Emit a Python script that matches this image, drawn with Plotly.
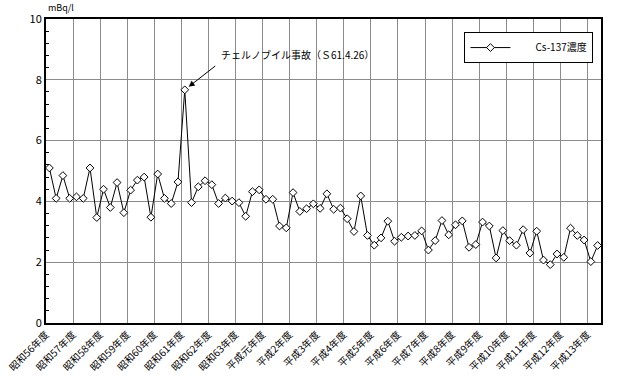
import plotly.graph_objects as go

year_labels = ["昭和56年度", "昭和57年度", "昭和58年度", "昭和59年度", "昭和60年度",
               "昭和61年度", "昭和62年度", "昭和63年度", "平成元年度", "平成2年度",
               "平成3年度", "平成4年度", "平成5年度", "平成6年度", "平成7年度",
               "平成8年度", "平成9年度", "平成10年度", "平成11年度", "平成12年度",
               "平成13年度"]

cs137 = [5.1, 4.1, 4.85, 4.1, 4.15, 4.1, 5.1, 3.47,
         4.4, 3.8, 4.62, 3.63, 4.37, 4.7, 4.8, 3.48,
         4.9, 4.1, 3.93, 4.64, 7.67, 3.96, 4.48, 4.68,
         4.55, 3.93, 4.11, 4.01, 3.96, 3.51, 4.32, 4.38,
         4.07, 4.07, 3.19, 3.13, 4.29, 3.67, 3.76, 3.92,
         3.77, 4.25, 3.74, 3.78, 3.43, 3.01, 4.18, 2.88,
         2.56, 2.8, 3.35, 2.69, 2.82, 2.86, 2.88, 3.03,
         2.4, 2.71, 3.37, 2.9, 3.23, 3.36, 2.49, 2.58,
         3.32, 3.19, 2.14, 3.04, 2.71, 2.56, 3.07, 2.3,
         3.02, 2.07, 1.92, 2.27, 2.16, 3.12, 2.88, 2.73,
         2.02, 2.55]

quarters_per_year = 4
x = [i + 0.5 for i in range(len(cs137))]
tickvals = [i * quarters_per_year for i in range(len(year_labels))]

font_family = "Noto Sans CJK JP"

fig = go.Figure()
fig.add_trace(go.Scatter(
    x=x, y=cs137, mode="lines+markers", name="\u3000\u3000Cs-137濃度",
    line=dict(color="black", width=1),
    marker=dict(symbol="diamond", size=6, color="white",
                line=dict(color="black", width=1)),
))

peak_i = cs137.index(max(cs137))
fig.add_annotation(x=x[peak_i], y=cs137[peak_i], xref="x", yref="y",
                   text="", showarrow=True, arrowhead=2, arrowsize=1.2,
                   arrowwidth=1, arrowcolor="black", standoff=5,
                   ax=32, ay=-25)
fig.add_annotation(x=x[peak_i], y=cs137[peak_i], xref="x", yref="y",
                   text="チェルノブイル事故（Ｓ61.4.26）", showarrow=False,
                   xanchor="left", yanchor="middle", xshift=34, yshift=35,
                   font=dict(size=10, color="black", family=font_family))
fig.add_annotation(x=0, y=1, xref="paper", yref="paper", text="mBq/l",
                   showarrow=False, xanchor="left", yanchor="bottom",
                   yshift=3, font=dict(size=9, color="black", family=font_family))

fig.update_layout(
    width=620, height=376,
    margin=dict(l=46, r=19, t=19, b=53, autoexpand=False),
    paper_bgcolor="white", plot_bgcolor="white",
    font=dict(family=font_family, color="black"),
    showlegend=True,
    legend=dict(x=0.754, y=0.957, xanchor="left", yanchor="top",
                bordercolor="black", borderwidth=1, bgcolor="white",
                font=dict(size=10, family=font_family), itemwidth=40),
)
fig.update_xaxes(
    range=[0, len(cs137)], tickmode="array", tickvals=tickvals,
    ticktext=year_labels, tickangle=-45, ticks="", automargin=False,
    tickfont=dict(size=10, family=font_family, color="black"),
    showgrid=True, gridcolor="#8c8c8c", gridwidth=1,
    showline=True, linecolor="black", linewidth=2, mirror=True,
    zeroline=False,
)
fig.update_yaxes(
    range=[0, 10], dtick=2, ticks="", automargin=False,
    tickfont=dict(size=11, family=font_family, color="black"),
    showgrid=True, gridcolor="#8c8c8c", gridwidth=1,
    showline=True, linecolor="black", linewidth=2, mirror=True,
    zeroline=False,
    minor=dict(dtick=0.4, ticks="inside", ticklen=3, tickcolor="black",
               showgrid=False),
)

fig.write_html("out.html", config={"displayModeBar": False},
               post_script="document.body.style.margin='0';document.body.style.overflow='hidden';")
